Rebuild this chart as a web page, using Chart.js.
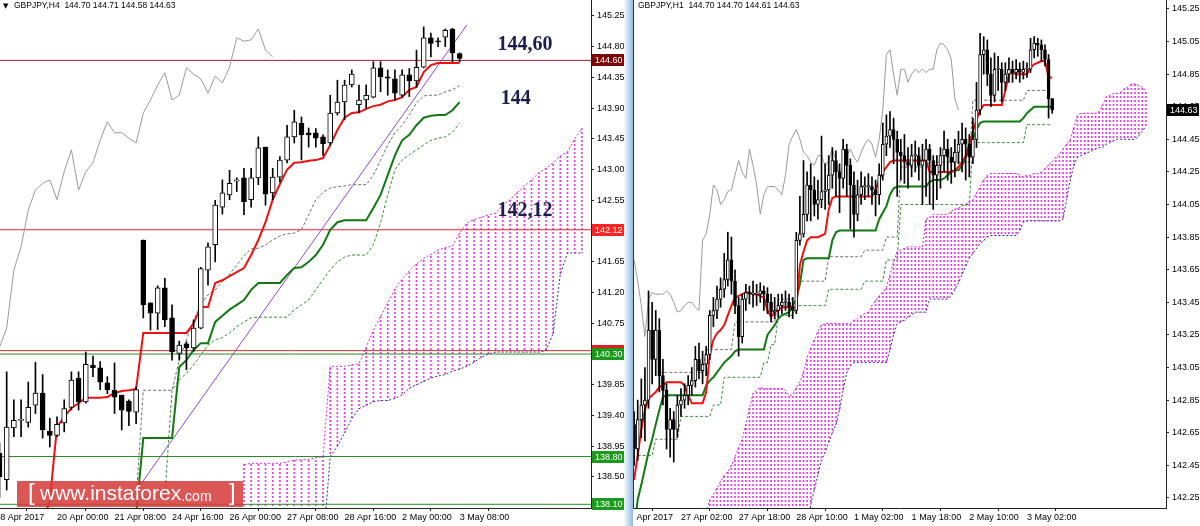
<!DOCTYPE html>
<html><head><meta charset="utf-8">
<script src="https://cdn.jsdelivr.net/npm/chart.js@4.4.0/dist/chart.umd.min.js"></script>
<style>
html,body{margin:0;padding:0;background:#fff;width:1200px;height:526px;overflow:hidden;position:relative;}
#cl{position:absolute;left:0;top:0;}
#cr{position:absolute;left:634px;top:0;}
#sep{position:absolute;left:624px;top:0;width:9px;height:526px;background:linear-gradient(to right,#f6f9fc,#c9def2 45%,#90b8e0);}
#sepline{position:absolute;left:633px;top:0;width:1px;height:509px;background:#333;}
</style></head><body>
<canvas id="cl" width="624" height="526"></canvas>
<div id="sep"></div><div id="sepline"></div>
<canvas id="cr" width="566" height="526"></canvas>
<script>
// ================= LEFT PANEL (GBPJPY H4) =================
const leftTimeTickPos = [-0.6, 8, 16, 24, 32, 40, 48, 56, 64];
const leftTimeLabels = ['18 Apr 2017','20 Apr 00:00','21 Apr 08:00','24 Apr 16:00','26 Apr 00:00','27 Apr 08:00','28 Apr 16:00','2 May 00:00','3 May 08:00'];
const leftPriceTicks = [145.25,144.80,144.35,143.90,143.45,143.00,142.55,142.10,141.65,141.20,140.75,140.30,139.85,139.40,138.95,138.50,138.05];

const leftOpen = [138.85,138.46,139.22,139.33,139.30,139.55,139.73,139.17,139.11,139.29,
 139.52,139.95,139.60,140.14,140.10,139.88,139.77,139.70,139.61,139.45,
 141.97,141.05,140.90,141.27,140.83,140.31,140.45,140.39,140.68,141.53,
 141.90,142.45,142.63,142.83,142.88,142.56,142.88,143.33,142.66,142.89,
 143.14,143.48,143.68,143.54,143.54,143.48,143.39,143.83,143.99,144.24,
 143.95,144.02,144.06,144.49,144.36,144.33,144.09,144.39,144.30,144.50,
 144.93,144.88,144.94,145.06,144.70];
const leftHigh = [139.00,140.04,139.63,139.63,139.89,140.18,140.00,139.36,139.38,139.63,
 140.04,140.04,140.33,140.27,140.19,139.97,140.17,139.70,139.63,139.82,
 141.97,141.05,141.30,141.41,141.02,140.49,140.48,140.80,141.57,141.93,
 142.55,142.85,142.99,142.88,143.02,143.02,143.48,143.33,143.02,143.19,
 143.65,143.87,143.77,143.61,143.60,143.51,144.09,144.31,144.31,144.46,
 144.24,144.24,144.58,144.58,144.46,144.46,144.46,144.48,144.75,145.09,
 145.00,144.93,145.06,145.07,144.71];
const leftLow = [138.20,138.31,139.09,139.09,139.23,139.43,139.07,138.94,139.09,139.16,
 139.48,139.48,139.58,139.97,139.78,139.72,139.43,139.19,139.25,139.28,
 140.83,140.65,140.66,140.70,140.21,140.21,140.07,140.34,140.67,141.31,
 141.65,142.35,142.56,142.68,142.34,142.45,142.78,142.48,142.56,142.82,
 143.10,143.39,143.14,143.33,143.33,143.21,143.36,143.80,143.73,144.21,
 143.83,143.90,144.05,144.14,144.09,144.02,144.06,144.07,144.21,144.49,
 144.65,144.80,144.80,144.58,144.58];
const leftClose = [138.50,139.23,139.33,139.34,139.52,139.73,139.19,139.11,139.27,139.50,
 139.92,139.60,140.15,140.10,139.89,139.78,139.67,139.48,139.46,139.78,
 141.02,140.90,141.27,140.80,140.33,140.43,140.39,140.68,141.55,141.87,
 142.48,142.66,142.80,142.85,142.53,142.88,143.32,142.64,142.89,143.14,
 143.48,143.70,143.51,143.51,143.46,143.38,143.83,143.99,144.24,144.40,
 144.02,144.09,144.49,144.36,144.34,144.12,144.39,144.30,144.50,144.93,
 144.85,144.87,145.04,144.71,144.63];
const leftTenkan = [137.80,137.80,137.80,137.80,137.80,137.80,137.80,138.16,139.23,139.38,
 139.51,139.58,139.66,139.66,139.66,139.67,139.73,139.76,139.77,139.79,
 140.61,140.61,140.61,140.61,140.61,140.61,140.61,140.75,140.99,140.99,
 141.34,141.38,141.44,141.50,141.56,141.75,141.97,142.23,142.56,142.79,
 143.00,143.10,143.11,143.13,143.14,143.17,143.36,143.58,143.76,143.83,
 143.84,143.89,143.93,143.95,144.00,144.02,144.06,144.17,144.21,144.43,
 144.53,144.56,144.56,144.56,144.56];
const leftKijun = [137.60,137.60,137.60,137.60,137.60,137.60,137.60,137.60,137.60,137.60,
 137.60,137.60,137.60,137.60,137.60,137.60,137.60,137.60,137.60,137.95,
 139.07,139.07,139.07,139.07,139.07,140.11,140.21,140.36,140.46,140.46,
 140.77,140.86,140.95,141.02,141.09,141.24,141.34,141.34,141.34,141.34,
 141.46,141.56,141.57,141.65,141.75,141.90,142.12,142.23,142.26,142.26,
 142.26,142.26,142.44,142.63,142.92,143.21,143.43,143.51,143.65,143.76,
 143.79,143.80,143.80,143.87,143.99];
const leftChikou = [140.40,140.68,141.53,141.87,142.41,142.70,142.80,142.85,142.56,142.97,
 143.29,142.70,142.97,143.10,143.43,143.70,143.54,143.54,143.46,143.39,
 143.83,144.02,144.24,144.42,144.02,144.09,144.49,144.40,144.33,144.12,
 144.37,144.27,144.50,144.93,144.88,144.90,145.06,144.75,144.65];
const leftDashUpperStart = 19;
const leftDashUpper = [138.16,139.77,139.77,139.77,139.77,139.77,140.21,140.51,140.80,141.02,
 141.17,141.24,141.36,141.47,141.60,141.74,141.84,141.85,141.90,141.97,
 142.03,142.06,142.07,142.12,142.34,142.56,142.67,142.73,142.75,142.76,
 142.78,142.78,142.78,142.92,143.14,143.36,143.54,143.65,143.80,143.98,
 144.08,144.09,144.09,144.14,144.17,144.23];
const leftDashLowerStart = 18;
const leftDashLower = [138.21,138.21,138.21,138.21,138.21,138.21,139.77,139.92,140.02,140.14,
 140.29,140.43,140.51,140.54,140.61,140.70,140.77,140.83,140.84,140.84,
 140.84,140.84,140.84,140.95,141.02,141.09,141.24,141.39,141.53,141.65,
 141.72,141.75,141.75,141.75,141.90,142.22,142.63,143.00,143.14,143.22,
 143.29,143.36,143.43,143.46,143.48,143.55,143.68];
const leftCloudStart = 34;
const leftSpanA = [138.68,138.70,138.70,138.70,138.70,138.70,138.72,138.75,138.75,138.76,
 138.78,138.80,140.12,140.12,140.12,140.14,140.16,140.40,140.65,140.85,
 141.05,141.25,141.40,141.52,141.62,141.70,141.76,141.82,141.86,141.88,
 142.07,142.22,142.27,142.30,142.34,142.36,142.48,142.56,142.66,142.76,
 142.85,142.95,143.02,143.10,143.20,143.26,143.45,143.60];
const leftSpanB = [137.50,137.50,137.50,137.50,137.50,137.50,137.50,137.50,137.50,137.50,
 137.50,137.50,138.80,138.95,139.15,139.35,139.50,139.55,139.60,139.62,
 139.62,139.65,139.70,139.80,139.85,139.90,139.95,139.98,140.00,140.05,
 140.08,140.12,140.18,140.25,140.30,140.33,140.33,140.33,140.33,140.33,
 140.33,140.33,140.35,140.60,141.47,141.78,141.78,141.78];
const leftTrendX = [18, 65];
const leftTrendY = [138.15, 145.12];
const leftLevels = [144.60, 142.12, 140.35, 140.30, 138.80, 138.10];

// ================= RIGHT PANEL (GBPJPY H1) =================
const rightTimeTickPos = [-1.8, 14, 30, 46, 62, 78, 94, 110];
const rightTimeLabels = ['26 Apr 2017','27 Apr 02:00','27 Apr 18:00','28 Apr 10:00','1 May 02:00','1 May 18:00','2 May 10:00','3 May 02:00'];
const rightPriceTicks = [145.25,145.05,144.85,144.65,144.45,144.25,144.05,143.85,143.65,143.45,143.25,143.05,142.85,142.65,142.45,142.25];
const rightStart = 1;
const rightOpen = [142.70,142.55,142.73,142.82,142.85,143.28,143.10,143.28,143.00,142.91,
 142.67,142.73,142.67,142.82,142.85,142.88,142.94,142.97,143.10,143.03,
 143.07,143.13,143.37,143.40,143.47,143.53,143.59,143.71,143.58,143.43,
 143.24,143.47,143.51,143.50,143.50,143.50,143.52,143.50,143.45,143.39,
 143.40,143.43,143.45,143.45,143.42,143.40,143.83,143.87,143.99,144.17,
 144.14,144.05,144.08,144.13,144.14,144.23,144.32,144.25,144.21,144.39,
 144.29,144.17,143.99,144.11,144.16,144.16,144.16,144.14,144.11,144.23,
 144.42,144.47,144.51,144.45,144.37,144.35,144.31,144.29,144.35,144.35,
 144.29,144.32,144.39,144.32,144.23,144.29,144.35,144.39,144.34,144.31,
 144.37,144.42,144.45,144.42,144.34,144.45,144.63,144.97,145.00,144.85,
 144.72,144.88,144.88,144.80,144.85,144.88,144.86,144.88,144.86,144.88,
 144.88,145.00,145.04,145.03,145.00,144.94,144.70];
const rightHigh = [142.78,142.85,142.98,143.05,143.52,143.45,143.40,143.35,143.10,142.95,
 142.80,142.78,142.88,142.92,142.95,143.00,143.05,143.18,143.20,143.15,
 143.18,143.40,143.48,143.55,143.60,143.75,143.88,143.85,143.65,143.48,
 143.50,143.56,143.55,143.58,143.56,143.57,143.55,143.54,143.50,143.48,
 143.50,143.50,143.52,143.50,143.48,143.88,144.10,144.32,144.25,144.30,
 144.22,144.20,144.47,144.30,144.35,144.40,144.38,144.30,144.45,144.42,
 144.33,144.25,144.20,144.25,144.22,144.24,144.22,144.20,144.30,144.55,
 144.60,144.62,144.58,144.50,144.45,144.48,144.40,144.42,144.44,144.40,
 144.42,144.45,144.42,144.35,144.35,144.40,144.50,144.45,144.40,144.45,
 144.50,144.55,144.52,144.48,144.58,144.80,145.10,145.08,145.06,144.95,
 144.98,144.96,144.92,144.92,144.95,144.93,144.94,144.92,144.93,144.92,
 145.07,145.08,145.07,145.06,145.03,144.97,144.70];
const rightLow = [142.45,142.48,142.62,142.60,142.80,142.95,143.00,142.90,142.82,142.55,
 142.50,142.47,142.62,142.75,142.80,142.82,142.88,142.93,142.98,142.95,
 143.00,143.10,143.30,143.35,143.42,143.48,143.55,143.50,143.38,143.12,
 143.20,143.40,143.44,143.42,143.43,143.45,143.40,143.38,143.33,143.35,
 143.36,143.38,143.40,143.36,143.35,143.38,143.80,143.85,143.95,143.95,
 143.98,143.96,144.03,144.02,144.05,144.15,144.10,144.00,144.15,144.10,
 143.90,143.85,143.95,144.05,144.08,144.10,144.05,143.98,144.05,144.20,
 144.35,144.40,144.30,144.10,144.20,144.18,144.15,144.22,144.25,144.20,
 144.05,144.10,144.05,144.02,144.08,144.15,144.25,144.20,144.18,144.22,
 144.30,144.25,144.20,144.22,144.30,144.40,144.60,144.85,144.78,144.65,
 144.68,144.75,144.68,144.75,144.80,144.80,144.82,144.80,144.82,144.83,
 144.86,144.95,144.96,144.93,144.90,144.58,144.61];
const rightClose = [142.55,142.73,142.82,142.85,143.28,143.10,143.28,143.00,142.91,142.67,
 142.73,142.67,142.82,142.85,142.88,142.94,142.97,143.10,143.03,143.07,
 143.13,143.37,143.40,143.47,143.53,143.59,143.71,143.58,143.43,143.24,
 143.47,143.51,143.50,143.50,143.50,143.52,143.50,143.45,143.39,143.40,
 143.43,143.45,143.45,143.42,143.40,143.83,143.87,143.99,144.17,144.14,
 144.05,144.08,144.13,144.14,144.23,144.32,144.25,144.21,144.39,144.29,
 144.17,143.99,144.11,144.16,144.16,144.16,144.14,144.11,144.23,144.42,
 144.47,144.51,144.45,144.37,144.35,144.31,144.29,144.35,144.35,144.29,
 144.32,144.39,144.32,144.23,144.29,144.35,144.39,144.34,144.31,144.37,
 144.42,144.45,144.42,144.34,144.45,144.63,144.97,145.00,144.85,144.72,
 144.88,144.88,144.80,144.85,144.88,144.86,144.88,144.86,144.88,144.88,
 145.00,145.04,145.03,145.00,144.94,144.70,144.63];
const rightTenkan = [142.36,142.51,142.67,142.79,142.86,142.88,142.90,142.93,142.94,142.96,
 142.96,142.96,142.96,142.96,142.94,142.88,142.83,142.83,142.83,142.83,
 142.90,143.13,143.22,143.26,143.28,143.31,143.37,143.43,143.48,143.49,
 143.50,143.51,143.51,143.50,143.50,143.49,143.48,143.40,143.36,143.39,
 143.40,143.42,143.42,143.42,143.42,143.42,143.68,143.76,143.83,143.85,
 143.85,143.85,143.86,143.87,144.02,144.09,144.10,144.10,144.10,144.10,
 144.10,144.10,144.10,144.10,144.10,144.10,144.10,144.14,144.20,144.25,
 144.28,144.31,144.32,144.32,144.32,144.32,144.32,144.32,144.32,144.32,
 144.32,144.32,144.25,144.25,144.25,144.25,144.25,144.25,144.25,144.26,
 144.28,144.31,144.35,144.42,144.50,144.57,144.63,144.66,144.66,144.66,
 144.66,144.66,144.66,144.75,144.85,144.86,144.85,144.85,144.85,144.85,
 144.89,144.91,144.92,144.93,144.93,144.83,144.83];
const rightKijun = [142.05,142.24,142.33,142.43,142.53,142.61,142.70,142.79,142.87,142.88,
 142.88,142.88,142.88,142.88,142.88,142.88,142.88,142.88,142.88,142.88,
 142.94,142.97,142.99,143.02,143.05,143.08,143.10,143.12,143.15,143.16,
 143.16,143.16,143.16,143.16,143.16,143.16,143.16,143.25,143.28,143.31,
 143.35,143.37,143.38,143.39,143.43,143.47,143.56,143.71,143.72,143.72,
 143.72,143.72,143.72,143.72,143.72,143.83,143.88,143.89,143.89,143.89,
 143.89,143.89,143.89,143.89,143.89,143.89,143.89,143.89,143.96,144.00,
 144.04,144.11,144.15,144.16,144.16,144.16,144.16,144.16,144.16,144.16,
 144.16,144.16,144.19,144.20,144.20,144.20,144.21,144.23,144.25,144.26,
 144.26,144.29,144.34,144.39,144.45,144.51,144.55,144.56,144.56,144.56,
 144.56,144.56,144.56,144.56,144.56,144.56,144.56,144.56,144.58,144.61,
 144.63,144.65,144.65,144.65,144.65,144.65,144.65];
const rightChikou = [143.71,143.58,143.43,143.24,143.47,143.51,143.50,143.50,143.50,143.52,
 143.50,143.45,143.39,143.40,143.43,143.45,143.45,143.42,143.40,143.83,
 143.87,143.99,144.17,144.14,144.05,144.08,144.13,144.14,144.23,144.32,
 144.25,144.21,144.39,144.29,144.17,143.99,144.11,144.16,144.16,144.16,
 144.14,144.11,144.23,144.42,144.47,144.51,144.45,144.37,144.35,144.31,
 144.29,144.35,144.35,144.29,144.32,144.39,144.32,144.23,144.29,144.35,
 144.39,144.34,144.31,144.37,144.42,144.45,144.42,144.34,144.45,144.63,
 144.97,145.00,144.85,144.72,144.88,144.88,144.80,144.85,144.88,144.86,
 144.88,144.86,144.88,144.88,145.00,145.04,145.03,145.00,144.94,144.70,
 144.63];
const rightDashUpperStart = 8;
const rightDashUpper = [143.02,143.02,143.02,143.02,143.02,143.02,143.02,143.02,143.02,143.02,143.02,143.02,143.02,
 143.16,143.16,143.16,143.16,143.16,143.16,143.16,143.16,
 143.33,143.33,143.33,143.33,143.33,143.33,143.33,143.33,143.33,143.33,143.33,143.33,
 143.47,143.47,143.47,143.47,143.47,143.47,
 143.58,143.58,143.58,143.58,143.58,143.58,143.58,143.58,
 143.73,143.73,143.73,143.73,143.73,143.73,143.73,143.73,143.73,143.73,
 143.77,143.77,143.77,143.77,143.77,143.77,
 143.85,143.85,143.85,143.85,
 144.28,144.28,144.28,144.28,144.28,144.28,144.28,144.28,
 144.31,144.31,144.31,144.31,144.31,144.31,144.31,144.31,144.31,144.31,144.31,144.31,
 144.69,144.69,144.69,144.69,144.69,144.69,144.69,144.69,144.69,144.69,144.69,144.69,144.69,144.69,144.69,
 144.75,144.75,144.75,144.75,144.75,144.75,144.75,144.75];
const rightDashLowerStart = 2;
const rightDashLower = [142.51,142.51,142.51,142.51,142.51,
 142.61,142.61,142.61,142.61,142.61,142.61,142.61,
 142.75,142.75,142.75,142.75,142.75,142.75,142.75,142.75,142.75,
 142.82,142.82,142.82,
 142.99,142.99,142.99,142.99,142.99,142.99,142.99,142.99,142.99,142.99,142.99,
 143.08,143.08,143.19,143.19,
 143.37,143.37,143.37,143.37,143.37,
 143.43,143.43,143.43,143.43,143.43,143.43,143.43,143.43,143.43,
 143.53,143.53,143.53,143.53,143.53,143.53,143.53,143.53,143.53,143.53,
 143.58,143.58,143.58,143.58,143.58,143.58,
 143.71,143.71,143.71,143.71,
 144.05,144.05,144.05,144.05,144.05,144.05,144.05,144.05,144.05,144.05,144.05,144.05,144.05,144.05,144.05,144.05,144.05,144.05,144.05,144.05,
 144.43,144.43,144.43,144.43,144.43,144.43,144.43,144.43,144.43,144.43,144.43,144.43,144.43,144.43,144.43,
 144.54,144.54,144.54,144.54,144.54,144.54,144.54,144.54];
const rightCloudStart = 21;
const rightSpanA = [142.16,142.24,142.27,142.31,142.35,142.39,142.41,142.45,142.50,142.56,
 142.61,142.70,142.80,142.89,142.91,142.93,142.92,142.92,142.92,142.92,
 142.92,142.92,142.91,142.88,142.88,142.93,142.96,143.02,143.11,143.17,
 143.22,143.27,143.31,143.32,143.32,143.32,143.32,143.32,143.32,143.32,
 143.32,143.34,143.35,143.37,143.38,143.39,143.43,143.46,143.49,143.51,
 143.54,143.62,143.70,143.76,143.77,143.78,143.79,143.79,143.79,143.79,
 143.79,143.96,143.97,143.99,143.99,143.99,143.99,143.99,144.01,144.02,
 144.03,144.04,144.05,144.07,144.08,144.12,144.16,144.20,144.23,144.24,
 144.24,144.24,144.24,144.24,144.24,144.24,144.24,144.23,144.22,144.23,
 144.23,144.24,144.24,144.25,144.27,144.29,144.31,144.34,144.36,144.39,
 144.42,144.45,144.52,144.60,144.61,144.61,144.61,144.61,144.61,144.62,
 144.66,144.71,144.72,144.73,144.73,144.74,144.76,144.77,144.79,144.79,
 144.78,144.77,144.75];
const rightSpanB = [141.90,141.90,141.90,141.90,141.90,141.90,141.90,141.90,141.90,141.90,
 141.90,141.90,141.90,141.90,141.90,141.90,141.90,141.90,141.90,141.90,
 141.90,141.90,141.90,141.90,141.90,141.90,141.90,141.90,141.90,142.21,
 142.30,142.39,142.48,142.53,142.59,142.65,142.70,142.79,142.91,143.02,
 143.06,143.08,143.08,143.08,143.08,143.08,143.08,143.08,143.08,143.08,
 143.08,143.16,143.25,143.32,143.33,143.34,143.36,143.37,143.39,143.39,
 143.39,143.39,143.47,143.47,143.47,143.47,143.47,143.47,143.49,143.53,
 143.57,143.62,143.67,143.72,143.75,143.78,143.81,143.83,143.85,143.86,
 143.86,143.86,143.86,143.86,143.86,143.86,143.86,143.89,143.94,143.95,
 143.95,143.95,143.95,143.95,143.95,143.95,143.95,143.95,143.95,143.96,
 144.08,144.20,144.29,144.34,144.35,144.36,144.37,144.38,144.39,144.40,
 144.40,144.42,144.43,144.44,144.45,144.45,144.45,144.45,144.45,144.45,
 144.47,144.50,144.53];
const rightLastPrice = 144.63;

// ================= helpers =================
Chart.defaults.font.family = '"Liberation Sans", Arial, sans-serif';
Chart.defaults.font.size = 9;
Chart.defaults.color = '#000';

function pts(arr, start) { return arr.map((v, k) => ({ x: start + k, y: v })); }
function hatch(canvasId, color, period, on) {
  const c = document.createElement('canvas'); c.width = 1; c.height = period;
  const g = c.getContext('2d'); g.fillStyle = color; g.fillRect(0, 0, 1, on);
  return document.getElementById(canvasId).getContext('2d').createPattern(c, 'repeat');
}
function line(data, color, width, dash, order) {
  return { type: 'line', data, borderColor: color, borderWidth: width, borderDash: dash || [],
    pointRadius: 0, tension: 0, fill: false, order, clip: 0 };
}
function candles(O, H, L, C, start, bodyW) {
  const wick = O.map((o, k) => ({ x: start + k, y: [L[k], H[k]] }));
  const body = O.map((o, k) => ({ x: start + k, y: [Math.min(o, C[k]), Math.max(o, C[k])] }));
  const fills = O.map((o, k) => (C[k] >= o ? '#ffffff' : '#000000'));
  return [
    { type: 'bar', data: body, backgroundColor: fills, borderColor: '#000', borderWidth: 1,
      borderSkipped: false, barThickness: bodyW, minBarLength: 1, grouped: false, order: 0, clip: 0 },
    { type: 'bar', data: wick, backgroundColor: '#000', borderWidth: 0, barThickness: 1,
      grouped: false, order: 1, clip: 0 }
  ];
}
function cloud(A, B, start, pattern) {
  return { type: 'bar', data: A.map((a, k) => ({ x: start + k, y: [B[k], a] })),
    backgroundColor: pattern, borderWidth: 0, barThickness: 1, grouped: false, order: 20, clip: 0 };
}
function noPad(s) { s.paddingLeft = 0; s.paddingRight = 0; s.paddingTop = 0; s.paddingBottom = 0; }
function axes(view, timePos, timeLabels, priceTicks, yWidth) {
  const grid = { display: true, drawOnChartArea: false, drawTicks: true, tickLength: 3, color: '#222' };
  return {
    x: { type: 'linear', min: view.xMin, max: view.xMax, offset: false, bounds: 'data',
      grid, border: { display: true, color: '#222', width: 1 },
      ticks: { autoSkip: false, maxRotation: 0, minRotation: 0, align: 'start', padding: 1,
        callback: (v, i) => timeLabels[i] },
      afterBuildTicks: s => { s.ticks = timePos.map(v => ({ value: v })); },
      afterFit: s => { s.height = 18; noPad(s); } },
    y: { type: 'linear', position: 'right', min: view.yMin, max: view.yMax, bounds: 'data',
      grid, border: { display: true, color: '#222', width: 1 },
      ticks: { autoSkip: false, padding: 3, callback: v => Number(v).toFixed(2) },
      afterBuildTicks: s => { s.ticks = priceTicks.map(v => ({ value: v })); },
      afterFit: s => { s.width = yWidth; noPad(s); } }
  };
}
const decor = {
  id: 'decor',
  afterDraw(chart, args, o) {
    const ctx = chart.ctx, ys = chart.scales.y, xs = chart.scales.x, ca = chart.chartArea;
    ctx.save();
    (o.boxes || []).forEach(b => {
      const y = Math.round(ys.getPixelForValue(b.v));
      ctx.fillStyle = b.bg; ctx.fillRect(ca.right + 1, y - 6, 32, 12);
      ctx.fillStyle = '#fff'; ctx.font = '9px "Liberation Sans"'; ctx.textBaseline = 'middle'; ctx.textAlign = 'left';
      ctx.fillText(b.v.toFixed(2), ca.right + 4, y + 0.5);
    });
    if (o.header) {
      ctx.fillStyle = '#000'; ctx.textBaseline = 'middle'; ctx.textAlign = 'left';
      if (o.arrow) { ctx.font = '7px "DejaVu Sans"'; ctx.fillText('\u25BC', 3, 6); }
      ctx.font = '8.5px "Liberation Sans"';
      ctx.fillText(o.header, o.headerX, 6);
    }
    (o.notes || []).forEach(n => {
      ctx.fillStyle = '#1c1c4e'; ctx.font = 'bold 20px "Liberation Serif"'; ctx.textAlign = 'center'; ctx.textBaseline = 'middle';
      ctx.fillText(n.t, xs.getPixelForValue(n.x), ys.getPixelForValue(n.y));
    });
    if (o.watermark) {
      ctx.fillStyle = 'rgba(214,58,58,0.86)'; ctx.fillRect(17, 481, 226, 26);
      ctx.fillStyle = '#fff'; ctx.textAlign = 'left'; ctx.textBaseline = 'middle';
      ctx.font = '24px "Liberation Sans"'; ctx.fillText('[', 28, 493);
      ctx.font = '21px "Liberation Sans"'; ctx.fillText('www.instaforex', 40, 494);
      const w = ctx.measureText('www.instaforex').width;
      ctx.font = '14px "Liberation Sans"'; ctx.fillText('.com', 40 + w, 497);
      ctx.font = '24px "Liberation Sans"'; ctx.fillText(']', 229, 493);
    }
    ctx.restore();
  }
};

// ================= LEFT CHART =================
const leftView = { xMin: 0.07, xMax: 82.27, yMin: 138.046, yMax: 145.484 };
const leftLevelStyle = ['#a8183a', '#e8203a', '#c83030', '#2a8a2a', '#2a8a2a', '#2a8a2a'];
const leftBoxBg = ['#7a0808', '#ff2424', '#e02020', '#1c9a1c', '#1c9a1c', '#1c9a1c'];
const lHatch = hatch('cl', '#e23ce2', 4, 2);
const leftDatasets = [
  ...candles(leftOpen, leftHigh, leftLow, leftClose, 0, 5),
  line(pts(leftTenkan, 0), '#ee1111', 2, null, 2),
  line(pts(leftKijun, 0), '#127812', 2, null, 3),
  line(pts(leftChikou, 0), '#9a9a9a', 1, null, 4),
  line(pts(leftDashUpper, leftDashUpperStart), '#6e6e6e', 1, [3, 2], 5),
  line(pts(leftDashLower, leftDashLowerStart), '#3a8c3a', 1, [3, 2], 6),
  line(leftTrendX.map((x, k) => ({ x, y: leftTrendY[k] })), '#8a4ad0', 1, null, 7),
  ...leftLevels.map((v, k) => line([{ x: leftView.xMin, y: v }, { x: leftView.xMax, y: v }], leftLevelStyle[k], 1, null, 8)),
  line(pts(leftSpanA, leftCloudStart), '#dd22dd', 1, [2, 2], 9),
  line(pts(leftSpanB, leftCloudStart), '#2c2c96', 1, [2, 2], 10),
  cloud(leftSpanA, leftSpanB, leftCloudStart, lHatch)
];
new Chart(document.getElementById('cl'), {
  type: 'line',
  data: { datasets: leftDatasets },
  options: {
    responsive: false, animation: false, events: [], layout: { padding: 0 },
    plugins: { legend: { display: false }, tooltip: { enabled: false },
      decor: {
        boxes: leftLevels.map((v, k) => ({ v, bg: leftBoxBg[k] })),
        header: 'GBPJPY,H4  144.70 144.71 144.58 144.63', headerX: 14, arrow: true,
        notes: [{ t: '144,60', x: 73.1, y: 144.83 }, { t: '144', x: 71.8, y: 144.03 }, { t: '142,12', x: 73.1, y: 142.39 }],
        watermark: true
      } },
    scales: axes(leftView, leftTimeTickPos, leftTimeLabels, leftPriceTicks, 33)
  },
  plugins: [decor]
});

// ================= RIGHT CHART =================
const rightView = { xMin: 0.97, xMax: 148.58, yMin: 142.188, yMax: 145.305 };
const rHatch = hatch('cr', '#e23ce2', 4, 2);
const rightDatasets = [
  ...candles(rightOpen, rightHigh, rightLow, rightClose, rightStart, 3),
  line(pts(rightTenkan, rightStart), '#ee1111', 2, null, 2),
  line(pts(rightKijun, rightStart), '#127812', 2, null, 3),
  line(pts(rightChikou, rightStart), '#9a9a9a', 1, null, 4),
  line(pts(rightDashUpper, rightDashUpperStart), '#6e6e6e', 1, [3, 2], 5),
  line(pts(rightDashLower, rightDashLowerStart), '#3a8c3a', 1, [3, 2], 6),
  line(pts(rightSpanA, rightCloudStart), '#dd22dd', 1, [2, 2], 9),
  line(pts(rightSpanB, rightCloudStart), '#2c2c96', 1, [2, 2], 10),
  cloud(rightSpanA, rightSpanB, rightCloudStart, rHatch)
];
new Chart(document.getElementById('cr'), {
  type: 'line',
  data: { datasets: rightDatasets },
  options: {
    responsive: false, animation: false, events: [], layout: { padding: 0 },
    plugins: { legend: { display: false }, tooltip: { enabled: false },
      decor: {
        boxes: [{ v: rightLastPrice, bg: '#000000' }],
        header: 'GBPJPY,H1  144.70 144.70 144.61 144.63', headerX: 4, arrow: false
      } },
    scales: axes(rightView, rightTimeTickPos, rightTimeLabels, rightPriceTicks, 34)
  },
  plugins: [decor]
});
</script>
</body></html>
